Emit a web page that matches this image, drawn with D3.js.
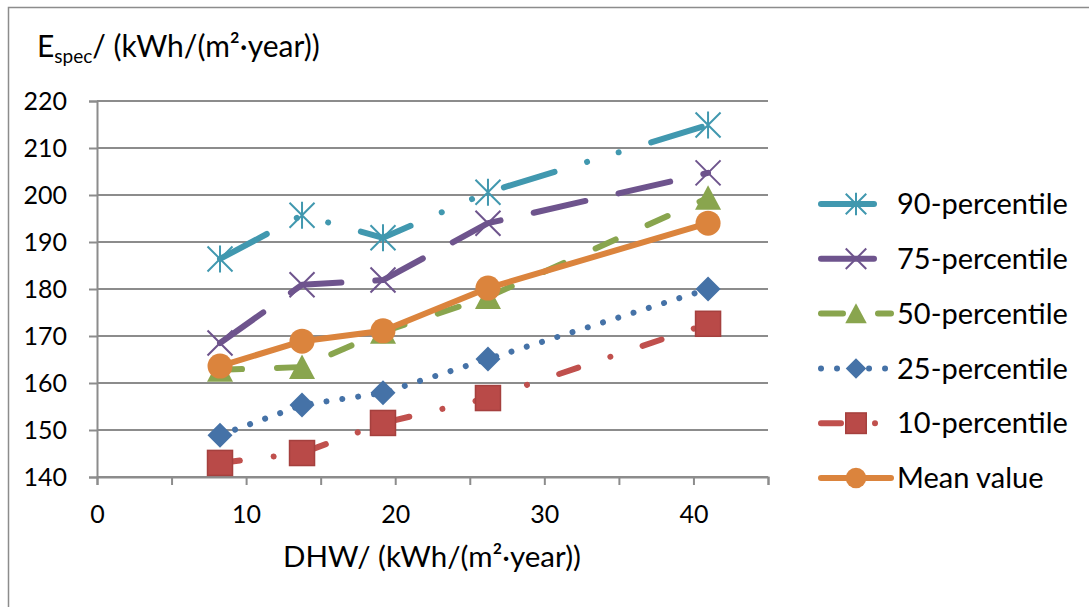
<!DOCTYPE html>
<html>
<head>
<meta charset="utf-8">
<script src="https://cdn.jsdelivr.net/npm/d3@7"></script>
<style>
  body { margin: 0; background: #fff; }
  text { font-family: Lato, "Open Sans", sans-serif; fill: #000; }
</style>
</head>
<body>
<svg id="chart" width="1089" height="607"></svg>
<script>
// DHW values of the five groups (x) and E_spec per percentile (y)
const dhw = [8.25, 13.75, 19.18, 26.22, 40.98];
const p90 = [186.4, 195.7, 190.9, 200.6, 214.9];
const p75 = [168.5, 180.9, 181.9, 194.0, 204.7];
const p50 = [162.8, 163.4, 170.9, 178.3, 199.4];
const p25 = [148.9, 155.3, 157.9, 165.1, 180.0];
const p10 = [143.0, 145.1, 151.5, 156.8, 172.6];
const meanValue = [163.6, 168.9, 171.1, 180.2, 194.0];

const xTicks = [0, 10, 20, 30, 40];
const yTicks = [140, 150, 160, 170, 180, 190, 200, 210, 220];

const series = [
  { name: "90-percentile", values: p90, color: "#4198AF", dash: "53,34,0.01,33,0.01,34", marker: "asterisk" },
  { name: "75-percentile", values: p75, color: "#6E548D", dash: "53,34", marker: "x" },
  { name: "50-percentile", values: p50, color: "#89A54E", dash: "22,35", marker: "triangle" },
  { name: "25-percentile", values: p25, color: "#4572A7", dash: "0.01,16", marker: "diamond" },
  { name: "10-percentile", values: p10, color: "#C0504D", dash: "20,34,0.01,34", marker: "square", fill: "#B94A48", edge: "#A5403E" },
  { name: "Mean value", values: meanValue, color: "#DB843D", dash: null, marker: "circle" }
];

const svg = d3.select("#chart");
const x = d3.scaleLinear().domain([0, 45]).range([97, 768]);
const y = d3.scaleLinear().domain([140, 220]).range([477, 101]);

// outer chart frame (runs off the right and bottom edges)
svg.append("rect")
  .attr("x", 8.5).attr("y", 7.5).attr("width", 1200).attr("height", 700)
  .attr("fill", "#fff").attr("stroke", "#8c8c8c").attr("stroke-width", 1.5);

// gridlines
svg.append("g")
  .selectAll("line").data(yTicks).enter().append("line")
  .attr("x1", x(0)).attr("x2", x(45))
  .attr("y1", d => y(d)).attr("y2", d => y(d))
  .attr("stroke", "#8c8c8c").attr("stroke-width", 2);

// y axis
const yAxis = svg.append("g").attr("transform", `translate(${x(0)},0)`)
  .call(d3.axisLeft(y).tickValues(yTicks).tickSize(8).tickPadding(22));
yAxis.select(".domain").attr("stroke", "#8c8c8c").attr("stroke-width", 2);
yAxis.selectAll(".tick line").attr("stroke", "#8c8c8c").attr("stroke-width", 2);
yAxis.selectAll(".tick text").attr("font-size", 25).attr("font-family", "Lato");

// x axis: minor ticks every 5, labels every 10
const xAxis = svg.append("g").attr("transform", `translate(0,${y(140)})`)
  .call(d3.axisBottom(x).tickValues(d3.range(0, 46, 5)).tickSize(8).tickPadding(20)
    .tickFormat(d => xTicks.includes(d) ? d : ""));
xAxis.select(".domain").attr("stroke", "#8c8c8c").attr("stroke-width", 2);
xAxis.selectAll(".tick line").attr("stroke", "#8c8c8c").attr("stroke-width", 2);
xAxis.selectAll(".tick text").attr("font-size", 25).attr("font-family", "Lato");

// axis titles
const yTitle = svg.append("text").attr("x", 37).attr("y", 57).attr("font-size", 30);
yTitle.append("tspan").text("E");
yTitle.append("tspan").attr("font-size", 19).attr("dy", 6).text("spec");
yTitle.append("tspan").attr("dy", -6).text("/ (kWh/(m²·year))");

svg.append("text").attr("x", 432).attr("y", 567).attr("text-anchor", "middle")
  .attr("font-size", 29.5).text("DHW/ (kWh/(m²·year))");

function drawMarker(g, s, cx, cy, k) {
  const r = 12.5 * k;
  if (s.marker === "asterisk") {
    g.append("path")
      .attr("d", `M${cx - r},${cy - r}L${cx + r},${cy + r}M${cx - r},${cy + r}L${cx + r},${cy - r}M${cx},${cy - r - 1}L${cx},${cy + r + 1}`)
      .attr("stroke", s.color).attr("stroke-width", 2).attr("fill", "none");
  } else if (s.marker === "x") {
    g.append("path")
      .attr("d", `M${cx - r},${cy - r}L${cx + r},${cy + r}M${cx - r},${cy + r}L${cx + r},${cy - r}`)
      .attr("stroke", s.color).attr("stroke-width", 2).attr("fill", "none");
  } else if (s.marker === "triangle") {
    g.append("path")
      .attr("d", `M${cx},${cy - r}L${cx + r + 0.5},${cy + r - 0.5}L${cx - r - 0.5},${cy + r - 0.5}Z`)
      .attr("fill", s.color);
  } else if (s.marker === "diamond") {
    g.append("path")
      .attr("d", `M${cx},${cy - r}L${cx + r},${cy}L${cx},${cy + r}L${cx - r},${cy}Z`)
      .attr("fill", s.color);
  } else if (s.marker === "square") {
    g.append("rect")
      .attr("x", cx - r).attr("y", cy - r).attr("width", 2 * r).attr("height", 2 * r)
      .attr("fill", s.fill).attr("stroke", s.edge).attr("stroke-width", 1.5);
  } else if (s.marker === "circle") {
    g.append("circle").attr("cx", cx).attr("cy", cy).attr("r", r)
      .attr("fill", s.color);
  }
}

const line = d3.line().x((d, i) => x(dhw[i])).y(d => y(d));

// series lines and markers
series.forEach(s => {
  const g = svg.append("g");
  g.append("path")
    .attr("d", line(s.values))
    .attr("fill", "none").attr("stroke", s.color).attr("stroke-width", 6)
    .attr("stroke-linecap", "round").attr("stroke-linejoin", "round")
    .attr("stroke-dasharray", s.dash);
  s.values.forEach((v, i) => drawMarker(g, s, x(dhw[i]), y(v), 1));
});

// legend
const legend = svg.append("g");
series.forEach((s, i) => {
  const ly = 204 + i * 54.8;
  const g = legend.append("g");
  g.append("line")
    .attr("x1", 821).attr("x2", 891).attr("y1", ly).attr("y2", ly)
    .attr("stroke", s.color).attr("stroke-width", 6)
    .attr("stroke-linecap", "round").attr("stroke-dasharray", s.dash);
  drawMarker(g, s, 856, ly, 0.82);
  g.append("text").attr("x", 897).attr("y", ly).attr("dy", "0.35em")
    .attr("font-size", 29).text(s.name);
});
</script>
</body>
</html>
